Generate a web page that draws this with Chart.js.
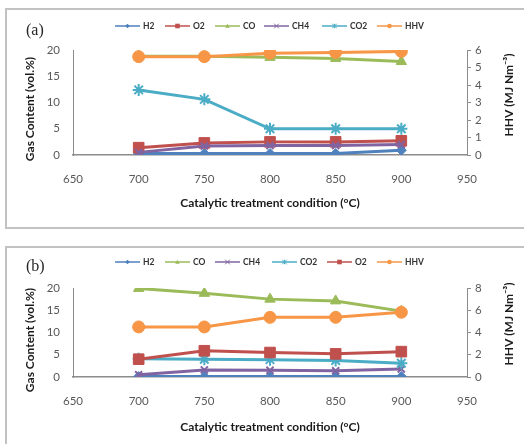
<!DOCTYPE html>
<html><head><meta charset="utf-8">
<script src="https://cdn.jsdelivr.net/npm/chart.js@4.4.1/dist/chart.umd.min.js"></script>
<style>
html,body{margin:0;padding:0;background:#fff;width:524px;height:444px;overflow:hidden}
.frame{position:absolute;border:2px solid #c2c2c2;box-sizing:border-box}
canvas{position:absolute;left:0}
</style></head><body>
<div class="frame" style="left:5px;top:8px;width:530px;height:221px"></div>
<div class="frame" style="left:5px;top:246px;width:530px;height:210px"></div>
<canvas id="ca" width="524" height="230" style="top:0"></canvas>
<canvas id="cb" width="524" height="204" style="top:240px"></canvas>
<script>
// ---- data ----
const temps = [700, 750, 800, 850, 900];
const xTicks = [650, 700, 750, 800, 850, 900, 950];
const yTicks = [0, 5, 10, 15, 20];
const y1TicksA = [0, 1, 2, 3, 4, 5, 6];
const y1TicksB = [0, 2, 4, 6, 8];

// panel (a)
const seriesA = ['H2', 'O2', 'CO', 'CH4', 'CO2', 'HHV'];
const h2A  = [0.3, 0.3, 0.3, 0.3, 0.9];
const o2A  = [1.4, 2.3, 2.5, 2.5, 2.7];
const coA  = [18.8, 18.8, 18.6, 18.4, 17.8];
const ch4A = [0.5, 1.7, 1.8, 1.8, 2.0];
const co2A = [12.4, 10.6, 5.0, 5.0, 5.0];
const hhvA = [5.62, 5.62, 5.82, 5.86, 5.92];

// panel (b)
const seriesB = ['H2', 'CO', 'CH4', 'CO2', 'O2', 'HHV'];
const h2B  = [0.1, 0.1, 0.1, 0.1, 0.1];
const coB  = [19.9, 18.8, 17.5, 17.1, 14.8];
const ch4B = [0.5, 1.6, 1.5, 1.4, 1.8];
const co2B = [4.1, 4.0, 3.9, 3.7, 3.1];
const o2B  = [4.0, 5.9, 5.5, 5.2, 5.7];
const hhvB = [4.5, 4.5, 5.36, 5.36, 5.82];

// ---- styles ----
const STY = {
  H2:  {c:'#4F81BD', ps:'rectRot', r:5},
  O2:  {c:'#C0504D', ps:'rect', r:7.5},
  CO:  {c:'#9BBB59', ps:'triangle', r:6},
  CH4: {c:'#8064A2', ps:'crossRot', r:5},
  CO2: {c:'#4BACC6', ps:'star', r:6},
  HHV: {c:'#F79646', ps:'circle', r:6}
};

function mk(name, vals, idx, n) {
  const s = STY[name];
  return {
    label: name,
    data: temps.map((t, i) => ({x: t, y: vals[i]})),
    yAxisID: name === 'HHV' ? 'y1' : 'y',
    borderColor: s.c, backgroundColor: s.c,
    pointBackgroundColor: s.c, pointBorderColor: s.c,
    pointStyle: s.ps, pointRadius: s.r,
    pointBorderWidth: (s.ps === 'star' || s.ps === 'crossRot') ? 2 : 1,
    borderWidth: 3, tension: 0, order: n - idx
  };
}

function drawMarker(ctx, style, x, y, r, color) {
  ctx.save();
  ctx.fillStyle = color; ctx.strokeStyle = color; ctx.lineWidth = 1;
  ctx.beginPath();
  if (style === 'circle') { ctx.arc(x, y, r, 0, Math.PI * 2); ctx.fill(); }
  else if (style === 'rect') { ctx.rect(x - r, y - r, 2 * r, 2 * r); ctx.fill(); }
  else if (style === 'rectRot') { ctx.moveTo(x, y - r); ctx.lineTo(x + r, y); ctx.lineTo(x, y + r); ctx.lineTo(x - r, y); ctx.closePath(); ctx.fill(); }
  else if (style === 'triangle') { ctx.moveTo(x, y - r); ctx.lineTo(x + r, y + r * 0.8); ctx.lineTo(x - r, y + r * 0.8); ctx.closePath(); ctx.fill(); }
  else if (style === 'crossRot') { ctx.moveTo(x - r, y - r); ctx.lineTo(x + r, y + r); ctx.moveTo(x + r, y - r); ctx.lineTo(x - r, y + r); ctx.stroke(); }
  else if (style === 'star') { ctx.moveTo(x - r, y - r); ctx.lineTo(x + r, y + r); ctx.moveTo(x + r, y - r); ctx.lineTo(x - r, y + r); ctx.moveTo(x, y - r); ctx.lineTo(x, y + r); ctx.stroke(); }
  ctx.restore();
}

const overlay = {
  id: 'overlay',
  afterDraw(chart, args, o) {
    const ctx = chart.ctx;
    ctx.save();
    ctx.fillStyle = '#262626';
    ctx.textBaseline = 'middle';
    ctx.textAlign = 'left';
    ctx.font = '16px "Liberation Serif"';
    ctx.fillText(o.panel, o.panelX, o.panelY);
    // legend
    ctx.font = 'bold 8.5px Lato';
    chart.data.datasets.forEach((ds, i) => {
      const x = o.legX[i], y = o.legY;
      ctx.strokeStyle = ds.borderColor; ctx.lineWidth = 1.5;
      ctx.beginPath(); ctx.moveTo(x, y); ctx.lineTo(x + 25, y); ctx.stroke();
      const st = STY[ds.label];
      drawMarker(ctx, st.ps, x + 12.5, y, 2.3, ds.borderColor);
      ctx.fillStyle = '#333';
      ctx.fillText(ds.label, x + 28, y + 0.5);
    });
    // axis titles
    ctx.font = 'bold 12px Lato';
    ctx.fillStyle = '#1a1a1a';
    ctx.textAlign = 'center';
    ctx.save(); ctx.translate(o.ltX, o.ltY); ctx.rotate(-Math.PI / 2);
    ctx.fillText('Gas Content (vol.%)', 0, 0); ctx.restore();
    ctx.save(); ctx.translate(o.rtX, o.rtY); ctx.rotate(-Math.PI / 2);
    ctx.fillText('HHV (MJ Nm\u207B\u00B3)', 0, 0); ctx.restore();
    ctx.restore();
  }
};

const AX = '#8c8c8c';
const TICKC = '#595959';
const TICKF = {family: 'Lato', size: 11.5};

function makeChart(id, names, arrays, y1Ticks, cfg) {
  const n = names.length;
  const datasets = names.map((nm, i) => mk(nm, arrays[i], i, n));
  return new Chart(document.getElementById(id), {
    type: 'line',
    data: {datasets},
    options: {
      responsive: false, animation: false,
      layout: {padding: {top: cfg.top, left: 0, right: 0, bottom: 0}},
      plugins: {legend: {display: false}, tooltip: {enabled: false}, overlay: cfg.ov},
      scales: {
        x: {
          type: 'linear', min: 650, max: 950,
          afterBuildTicks: s => { s.ticks = xTicks.map(v => ({value: v})); },
          grid: {display: false, drawTicks: false},
          border: {display: true, color: AX, width: 1.5},
          ticks: {padding: 17, color: TICKC, font: TICKF},
          title: {display: true, text: 'Catalytic treatment condition (\u00B0C)', color: '#1a1a1a',
                  font: {family: 'Lato', size: 12, weight: 'bold'}, padding: {top: 0, bottom: cfg.titlePad}},
          afterFit: s => { s.height = cfg.xh; }
        },
        y: {
          position: 'left', min: 0, max: 20,
          afterBuildTicks: s => { s.ticks = yTicks.map(v => ({value: v})); },
          grid: {display: false, drawTicks: false},
          border: {display: true, color: AX, width: 1},
          ticks: {padding: 13, color: TICKC, font: TICKF},
          afterFit: s => { s.width = 73; }
        },
        y1: {
          position: 'right', min: 0, max: y1Ticks[y1Ticks.length - 1],
          afterBuildTicks: s => { s.ticks = y1Ticks.map(v => ({value: v})); },
          grid: {display: true, drawOnChartArea: false, drawTicks: true, tickLength: 4, color: AX},
          border: {display: true, color: AX, width: 1},
          ticks: {padding: 4, color: TICKC, font: TICKF},
          afterFit: s => { s.width = 57; }
        }
      }
    },
    plugins: [overlay]
  });
}

makeChart('ca', seriesA, [h2A, o2A, coA, ch4A, co2A, hhvA], y1TicksA, {
  top: 50, xh: 75, titlePad: 20,
  ov: {panel: '(a)', panelX: 26, panelY: 31, legX: [115, 165, 215, 264, 322, 377], legY: 26,
       ltX: 30, ltY: 109, rtX: 509, rtY: 95}
});
makeChart('cb', seriesB, [h2B, coB, ch4B, co2B, o2B, hhvB], y1TicksB, {
  top: 48, xh: 67, titlePad: 10,
  ov: {panel: '(b)', panelX: 26, panelY: 27, legX: [115, 165, 215, 272, 327, 377], legY: 22,
       ltX: 30, ltY: 100, rtX: 509, rtY: 84}
});
</script>
</body></html>
